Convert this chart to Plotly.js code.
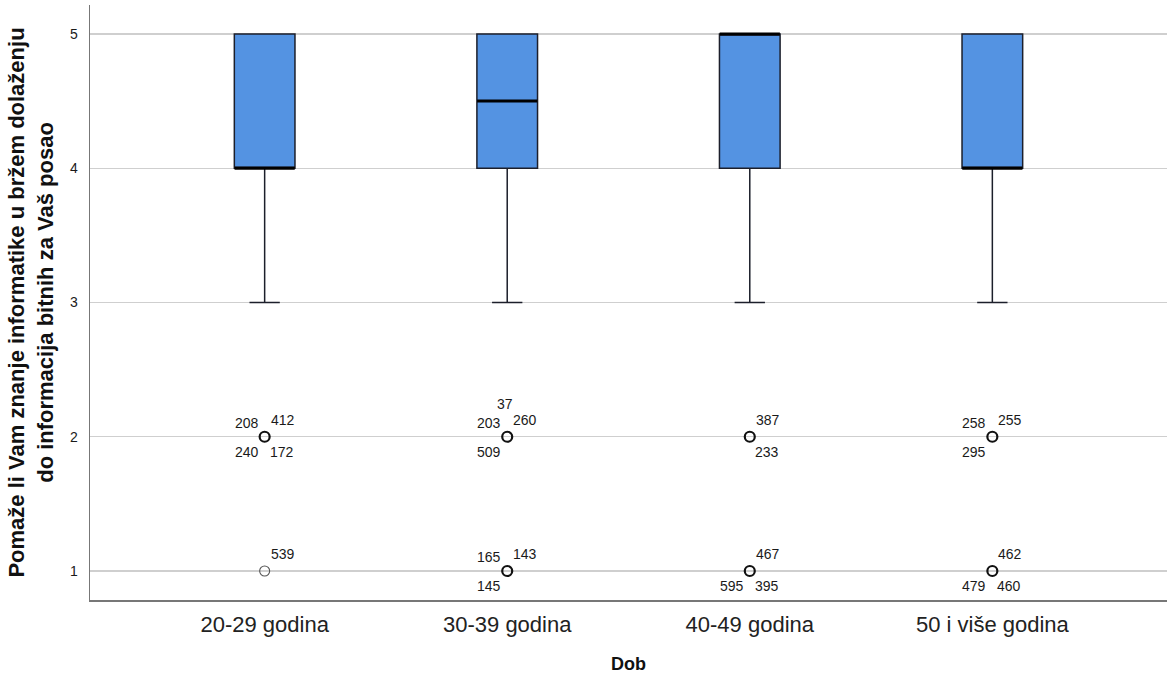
<!DOCTYPE html>
<html>
<head>
<meta charset="utf-8">
<script src="https://cdn.plot.ly/plotly-3.0.1.min.js"></script>
<style>html,body{margin:0;padding:0;background:#fff;}#chart{width:1169px;height:680px;}</style>
</head>
<body>
<div id="chart"></div>
<script>
// ---- data ----
var categories = ["20-29 godina", "30-39 godina", "40-49 godina", "50 i više godina"];
var q1 = [4, 4, 4, 4];
var medians = [4, 4.5, 5, 4];
var q3 = [5, 5, 5, 5];
var lowerWhisker = [3, 3, 3, 3];
var upperWhisker = [5, 5, 5, 5];

// outliers (bold = several cases, thin = single case)
var outlierCatBold = ["20-29 godina", "30-39 godina", "30-39 godina", "40-49 godina", "40-49 godina", "50 i više godina", "50 i više godina"];
var outlierValBold = [2, 2, 1, 2, 1, 2, 1];
var outlierCatThin = ["20-29 godina"];
var outlierValThin = [1];

// case labels next to outliers
var labelCat = ["20-29 godina","20-29 godina","20-29 godina","20-29 godina","20-29 godina",
                "30-39 godina","30-39 godina","30-39 godina","30-39 godina","30-39 godina","30-39 godina","30-39 godina",
                "40-49 godina","40-49 godina","40-49 godina","40-49 godina","40-49 godina",
                "50 i više godina","50 i više godina","50 i više godina","50 i više godina","50 i više godina","50 i više godina"];
var labelVal = [2,2,2,2,1,
                2,2,2,2,1,1,1,
                2,2,1,1,1,
                2,2,2,1,1,1];
var labelText = ["208","412","240","172","539",
                 "37","203","260","509","165","143","145",
                 "387","233","467","595","395",
                 "258","255","295","462","479","460"];

// ---- presentation ----
var labelSlot = ["ul","ur","ll","lr","ur",
                 "top","ul","ur","ll","ul","ur","ll",
                 "ur","lr","ur","ll","lr",
                 "ul","ur","ll","ur","ll","lr"];
var slotShift = {
  ul: [-18, 14], ur: [18, 17], ll: [-18, -15], lr: [17, -15], top: [-2, 33]
};
var FONT = "Liberation Sans, Arial, sans-serif";

var boxTrace = {
  type: "box",
  x: categories,
  q1: q1, median: medians, q3: q3,
  lowerfence: lowerWhisker, upperfence: upperWhisker,
  width: 0.25,
  whiskerwidth: 0.5,
  fillcolor: "#5493e2",
  line: {color: "#1c1f2b", width: 1.5},
  boxpoints: false,
  hoverinfo: "skip",
  showlegend: false
};

var medianTrace = {
  type: "scatter", mode: "markers",
  x: categories, y: medians,
  marker: {symbol: "line-ew", size: 43, line: {color: "#000", width: 3}},
  hoverinfo: "skip", showlegend: false, cliponaxis: false
};

var outBold = {
  type: "scatter", mode: "markers",
  x: outlierCatBold, y: outlierValBold,
  marker: {symbol: "circle-open", size: 10, color: "#111", line: {color: "#111", width: 2.2}},
  hoverinfo: "skip", showlegend: false
};
var outThin = {
  type: "scatter", mode: "markers",
  x: outlierCatThin, y: outlierValThin,
  marker: {symbol: "circle-open", size: 10, color: "#555", line: {color: "#555", width: 1.1}},
  hoverinfo: "skip", showlegend: false
};

var annotations = labelText.map(function (t, i) {
  var s = slotShift[labelSlot[i]];
  return {
    x: labelCat[i], y: labelVal[i], xref: "x", yref: "y",
    text: t, showarrow: false,
    xshift: s[0], yshift: s[1],
    font: {family: FONT, size: 14, color: "#1a1a1a"}
  };
});

var layout = {
  width: 1169, height: 680,
  margin: {l: 90, r: 2, t: 5, b: 80},
  paper_bgcolor: "#fff", plot_bgcolor: "#fff",
  hovermode: false,
  xaxis: {
    type: "category",
    categoryorder: "array", categoryarray: categories,
    range: [-0.72, 3.72],
    showgrid: false, zeroline: false,
    showline: true, linecolor: "#777", linewidth: 1.5,
    ticks: "", ticklabelstandoff: 4,
    tickfont: {family: FONT, size: 22, color: "#222"},
    title: {text: "<b>Dob</b>", font: {family: FONT, size: 18, color: "#111"}, standoff: 21}
  },
  yaxis: {
    range: [0.784, 5.216],
    tickvals: [1, 2, 3, 4, 5],
    showgrid: true, gridcolor: "#cfcfcf", gridwidth: 1.3,
    zeroline: false,
    showline: true, linecolor: "#777", linewidth: 1.5,
    ticks: "", ticklabelstandoff: 8,
    tickfont: {family: FONT, size: 14, color: "#1a1a1a"},
    title: {
      text: "<b>Pomaže li Vam znanje informatike u bržem dolaženju<br>do informacija bitnih za Vaš posao</b>",
      font: {family: FONT, size: 22, color: "#111"}, standoff: 10
    }
  },
  annotations: annotations
};

Plotly.newPlot("chart", [boxTrace, medianTrace, outThin, outBold], layout, {displayModeBar: false, staticPlot: true});
</script>
</body>
</html>
